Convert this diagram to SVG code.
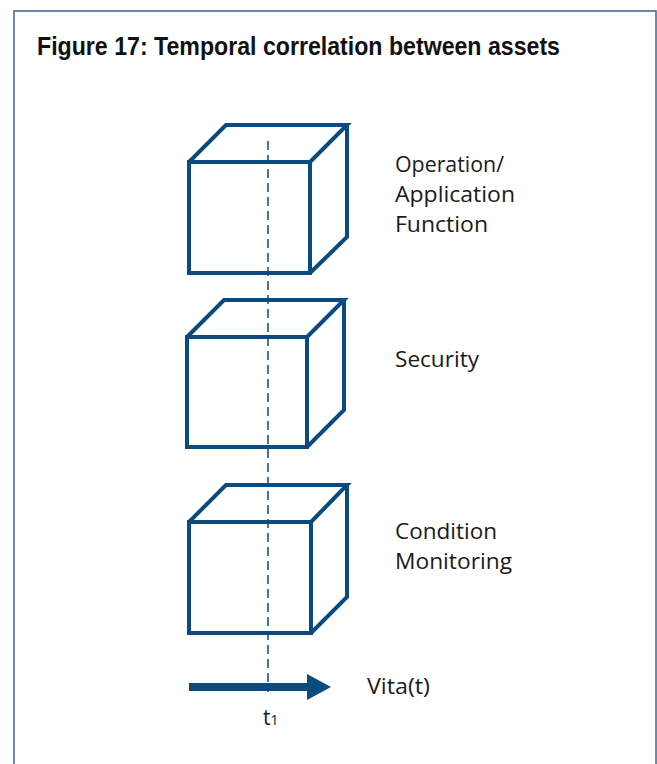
<svg xmlns="http://www.w3.org/2000/svg" width="657" height="764" viewBox="0 0 657 764">
<style>
.cube{fill:none;stroke:#0a4a7e;stroke-width:4;stroke-linejoin:miter}
.lbl{font-family:"Open Sans","Liberation Sans",sans-serif;font-size:21px;fill:#1a1a1a}
.title{font-family:"Liberation Sans",Arial,sans-serif;font-weight:bold;font-size:25px;fill:#111}
</style>
<rect x="14" y="11" width="642" height="800" fill="none" stroke="#3a6694" stroke-width="1.5"/>
<text class="title" x="37" y="55" textLength="523" lengthAdjust="spacingAndGlyphs">Figure 17: Temporal correlation between assets</text>
<g id="cube-operation">
<path class="cube" d="M189 162 H310 V273 H189 Z M189 162 L226 125 H347 L310 162 M347 125 V237 L310 273"/>
<text class="lbl" x="395" y="172" textLength="109" lengthAdjust="spacingAndGlyphs">Operation/</text>
<text class="lbl" x="395" y="202" textLength="120" lengthAdjust="spacingAndGlyphs">Application</text>
<text class="lbl" x="395" y="232" textLength="93" lengthAdjust="spacingAndGlyphs">Function</text>
</g>
<g id="cube-security">
<path class="cube" d="M187 337 H307 V447 H187 Z M187 337 L224 300 H344 L307 337 M344 300 V410 L307 447"/>
<text class="lbl" x="395" y="367" textLength="84" lengthAdjust="spacingAndGlyphs">Security</text>
</g>
<g id="cube-condition">
<path class="cube" d="M189 522 H311 V633 H189 Z M189 522 L226 485 H347 L311 522 M347 485 V597 L311 633"/>
<text class="lbl" x="395" y="539" textLength="102" lengthAdjust="spacingAndGlyphs">Condition</text>
<text class="lbl" x="395" y="569" textLength="117" lengthAdjust="spacingAndGlyphs">Monitoring</text>
</g>
<g id="connectors">
<line x1="268" y1="141" x2="268" y2="692" stroke="#0a4a7e" stroke-width="1.5" stroke-dasharray="9,5"/>
<path d="M189 683 H307 V674 L331 687 L307 700 V691 H189 Z" fill="#0a4a7e"/>
</g>
<g id="axis-labels">
<text class="lbl" x="367" y="694" textLength="63" lengthAdjust="spacingAndGlyphs">Vita(t)</text>
<text class="lbl" x="263" y="725">t<tspan font-size="14">1</tspan></text>
</g>
</svg>
